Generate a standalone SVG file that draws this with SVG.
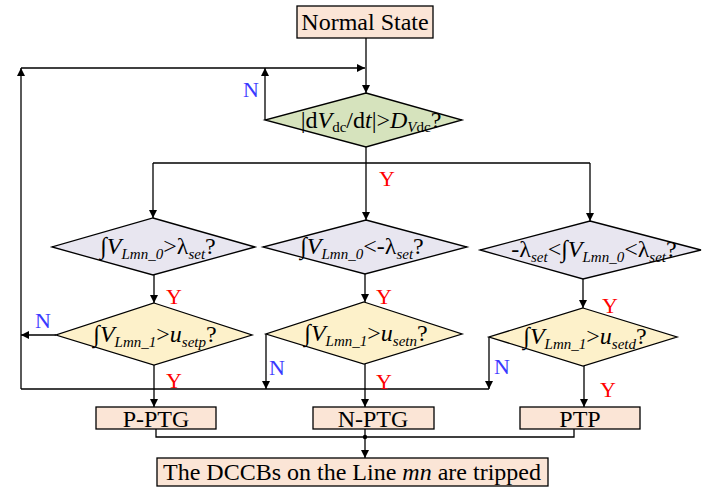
<svg xmlns="http://www.w3.org/2000/svg" width="714" height="487" viewBox="0 0 714 487">
<defs>
<style>
text{font-family:"Liberation Serif","Times New Roman",serif;fill:#000}
.box{fill:#fbe5d6;stroke:#000;stroke-width:1.3}
.dg{fill:#d6e3bd;stroke:#000;stroke-width:1.3}
.dp{fill:#e8e6f0;stroke:#000;stroke-width:1.3}
.dy{fill:#fdf1ca;stroke:#000;stroke-width:1.3}
.ln{fill:none;stroke:#000;stroke-width:1.3}
.t24{font-size:24px}
.i{font-style:italic}
.s{font-size:15px}
.Y{fill:#ff0000;font-size:22px}
.N{fill:#3a3aff;font-size:22px}
</style>
<marker id="ah" viewBox="0 0 10 10" refX="10" refY="5" markerWidth="9" markerHeight="8" markerUnits="userSpaceOnUse" orient="auto">
<path d="M0,0 L10,5 L0,10 z" fill="#000"/>
</marker>
</defs>

<g id="connectors">
<path class="ln" d="M366,38 V93" marker-end="url(#ah)"/>
<path class="ln" d="M21,389 V68" marker-end="url(#ah)"/>
<path class="ln" d="M21,68 H365" marker-end="url(#ah)"/>
<path class="ln" d="M265,120 V68" marker-end="url(#ah)"/>
<path class="ln" d="M366,147 V163"/>
<path class="ln" d="M153,163 H590"/>
<path class="ln" d="M153,163 V218" marker-end="url(#ah)"/>
<path class="ln" d="M366,163 V220" marker-end="url(#ah)"/>
<path class="ln" d="M590,163 V221" marker-end="url(#ah)"/>
<path class="ln" d="M154,275 V303" marker-end="url(#ah)"/>
<path class="ln" d="M365,274 V302" marker-end="url(#ah)"/>
<path class="ln" d="M583,279 V308" marker-end="url(#ah)"/>
<path class="ln" d="M56,335 H21" marker-end="url(#ah)"/>
<path class="ln" d="M266,334 V389" marker-end="url(#ah)"/>
<path class="ln" d="M489,337 V389" marker-end="url(#ah)"/>
<path class="ln" d="M21,389 H489"/>
<path class="ln" d="M154,365 V407" marker-end="url(#ah)"/>
<path class="ln" d="M365,364 V407" marker-end="url(#ah)"/>
<path class="ln" d="M584,366 V407" marker-end="url(#ah)"/>
<path class="ln" d="M156,429 V437 H574 V429"/>
<path class="ln" d="M365,429 V458" marker-end="url(#ah)"/>
<circle cx="365" cy="437" r="2.2" fill="#000"/>
</g>

<g id="labels">
<text class="N" x="251" y="97" text-anchor="middle">N</text>
<text class="Y" x="387" y="186" text-anchor="middle">Y</text>
<text class="Y" x="174" y="304" text-anchor="middle">Y</text>
<text class="Y" x="174" y="388" text-anchor="middle">Y</text>
<text class="N" x="43" y="328" text-anchor="middle">N</text>
<text class="Y" x="384" y="304" text-anchor="middle">Y</text>
<text class="Y" x="384" y="389" text-anchor="middle">Y</text>
<text class="N" x="277" y="375" text-anchor="middle">N</text>
<text class="Y" x="610" y="313" text-anchor="middle">Y</text>
<text class="N" x="502" y="374" text-anchor="middle">N</text>
<text class="Y" x="608" y="397" text-anchor="middle">Y</text>
</g>

<g id="normal">
<rect class="box" x="297" y="6" width="136" height="32"/>
<text class="t24" x="365" y="30" text-anchor="middle">Normal State</text>
</g>

<g id="d1">
<polygon class="dg" points="366,93 462,120 366,147 265,120"/>
<text class="t24" x="371" y="128" text-anchor="middle">|d<tspan class="i">V</tspan><tspan class="s" dy="4">dc</tspan><tspan dy="-4">/d</tspan><tspan class="i">t</tspan>|&gt;<tspan class="i">D</tspan><tspan class="s" dy="4"><tspan class="i">V</tspan>dc</tspan><tspan dy="-4">?</tspan></text>
</g>

<g id="d2a">
<polygon class="dp" points="153,218 255,247 153,275 52,247"/>
<text class="t24" x="158" y="254" text-anchor="middle">∫<tspan class="i">V</tspan><tspan class="i s" dy="5">Lmn_0</tspan><tspan dy="-5">&gt;λ</tspan><tspan class="i s" dy="5">set</tspan><tspan dy="-5">?</tspan></text>
</g>

<g id="d2b">
<polygon class="dp" points="366,220 467,247 365,274 263,247"/>
<text class="t24" x="362" y="254" text-anchor="middle">∫<tspan class="i">V</tspan><tspan class="i s" dy="5">Lmn_0</tspan><tspan dy="-5">&lt;-λ</tspan><tspan class="i s" dy="5">set</tspan><tspan dy="-5">?</tspan></text>
</g>

<g id="d2c">
<polygon class="dp" points="590,221 701,250 583,279 480,250"/>
<text class="t24" x="594" y="257" text-anchor="middle">-λ<tspan class="i s" dy="5">set</tspan><tspan dy="-5">&lt;∫</tspan><tspan class="i">V</tspan><tspan class="i s" dy="5">Lmn_0</tspan><tspan dy="-5">&lt;λ</tspan><tspan class="i s" dy="5">set</tspan><tspan dy="-5">?</tspan></text>
</g>

<g id="d3a">
<polygon class="dy" points="154,303 252,335 154,365 56,335"/>
<text class="t24" x="155" y="342" text-anchor="middle">∫<tspan class="i">V</tspan><tspan class="i s" dy="5">Lmn_1</tspan><tspan dy="-5">&gt;</tspan><tspan class="i">u</tspan><tspan class="i s" dy="5">setp</tspan><tspan dy="-5">?</tspan></text>
</g>

<g id="d3b">
<polygon class="dy" points="364,302 462,334 364,364 266,334"/>
<text class="t24" x="366" y="341" text-anchor="middle">∫<tspan class="i">V</tspan><tspan class="i s" dy="5">Lmn_1</tspan><tspan dy="-5">&gt;</tspan><tspan class="i">u</tspan><tspan class="i s" dy="5">setn</tspan><tspan dy="-5">?</tspan></text>
</g>

<g id="d3c">
<polygon class="dy" points="583,308 677,337 583,366 489,337"/>
<text class="t24" x="585" y="344" text-anchor="middle">∫<tspan class="i">V</tspan><tspan class="i s" dy="5">Lmn_1</tspan><tspan dy="-5">&gt;</tspan><tspan class="i">u</tspan><tspan class="i s" dy="5">setd</tspan><tspan dy="-5">?</tspan></text>
</g>

<g id="pptg">
<rect class="box" x="96" y="407" width="120" height="22"/>
<text class="t24" x="156" y="427" text-anchor="middle">P-PTG</text>
</g>
<g id="nptg">
<rect class="box" x="313" y="407" width="121" height="22"/>
<text class="t24" x="373" y="427" text-anchor="middle">N-PTG</text>
</g>
<g id="ptp">
<rect class="box" x="520" y="407" width="120" height="22"/>
<text class="t24" x="580" y="427" text-anchor="middle">PTP</text>
</g>
<g id="tripped">
<rect class="box" x="157" y="458" width="391" height="28"/>
<text class="t24" x="352" y="480" text-anchor="middle">The DCCBs on the Line <tspan class="i">mn</tspan> are tripped</text>
</g>
</svg>
